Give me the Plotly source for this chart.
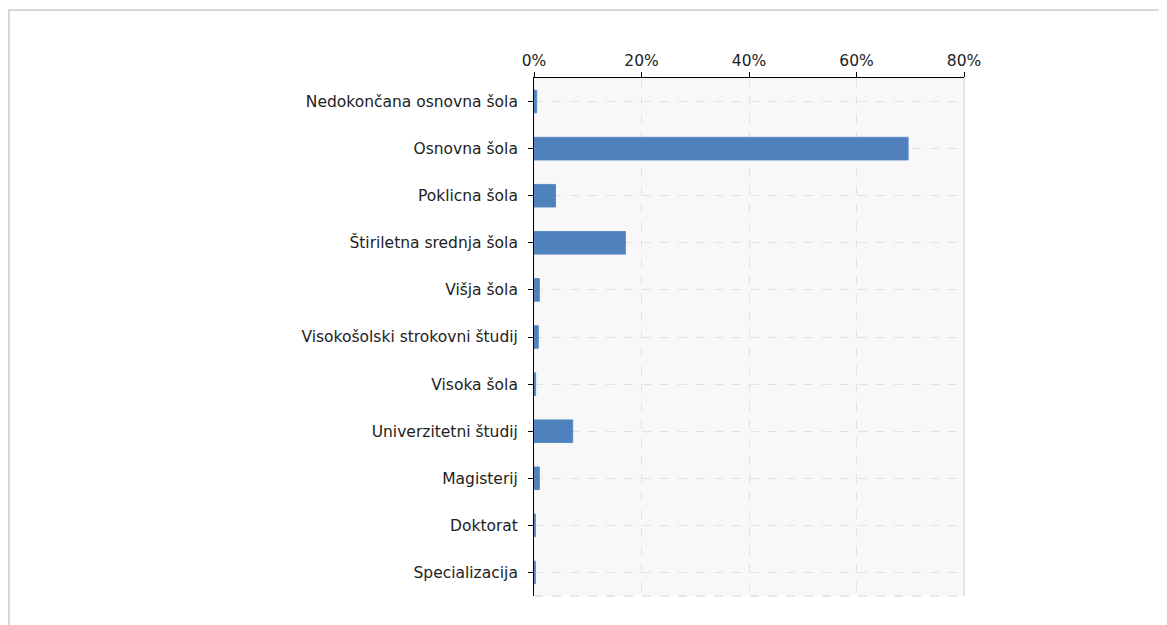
import plotly.graph_objects as go

categories = [
    "Nedokončana osnovna šola",
    "Osnovna šola",
    "Poklicna šola",
    "Štiriletna srednja šola",
    "Višja šola",
    "Visokošolski strokovni študij",
    "Visoka šola",
    "Univerzitetni študij",
    "Magisterij",
    "Doktorat",
    "Specializacija",
]
values = [0.5, 69.6, 4.0, 17.0, 1.0, 0.8, 0.3, 7.2, 1.0, 0.25, 0.25]
x_ticks = [0, 20, 40, 60, 80]
x_tick_labels = ["0%", "20%", "40%", "60%", "80%"]

# page body has an 8px margin, so figure coords = screen coords - 8
W, H = 1159, 617
L, R, T, B = 526, 203, 70, 28.5
pw, ph = W - L - R, H - T - B

def px_x(x):
    return (x - L) / pw

def px_y(y):
    return (H - B - y) / ph

fig = go.Figure(
    go.Bar(
        x=values,
        y=categories,
        orientation="h",
        width=0.48,
        marker=dict(color="#4f81bd", line=dict(color="#5b8cc6", width=1)),
        hoverinfo="x+y",
    )
)

fig.update_layout(
    width=W,
    height=H,
    margin=dict(l=L, r=R, t=T, b=B, pad=0),
    paper_bgcolor="white",
    plot_bgcolor="#f8f8f8",
    font=dict(family="DejaVu Sans", size=15.5, color="#222"),
    showlegend=False,
    xaxis=dict(
        side="top",
        range=[0, 80],
        tickvals=x_ticks,
        ticktext=x_tick_labels,
        showline=True,
        linecolor="black",
        linewidth=1,
        ticks="outside",
        ticklen=5,
        tickcolor="black",
        showgrid=True,
        gridcolor="#e2e2e2",
        griddash="dash",
        zeroline=False,
        fixedrange=True,
    ),
    yaxis=dict(
        autorange="reversed",
        showline=True,
        linecolor="black",
        linewidth=1,
        ticks="outside",
        ticklen=5,
        tickcolor="black",
        showgrid=True,
        gridcolor="#e2e2e2",
        griddash="dash",
        ticklabelstandoff=7,
        fixedrange=True,
    ),
    shapes=[
        dict(type="rect", xref="paper", yref="paper",
             x0=px_x(1), x1=px_x(1170), y0=px_y(640), y1=px_y(2),
             line=dict(color="#d8d8d8", width=2), fillcolor="rgba(0,0,0,0)", layer="below"),
        dict(type="line", xref="paper", yref="paper",
             x0=1, x1=1, y0=0, y1=1, line=dict(color="#dddddd", width=1.5)),
        dict(type="line", xref="paper", yref="paper",
             x0=0, x1=1, y0=0, y1=0, line=dict(color="#e2e2e2", width=1.5, dash="dash")),
    ],
)

fig.write_html("out.html")
